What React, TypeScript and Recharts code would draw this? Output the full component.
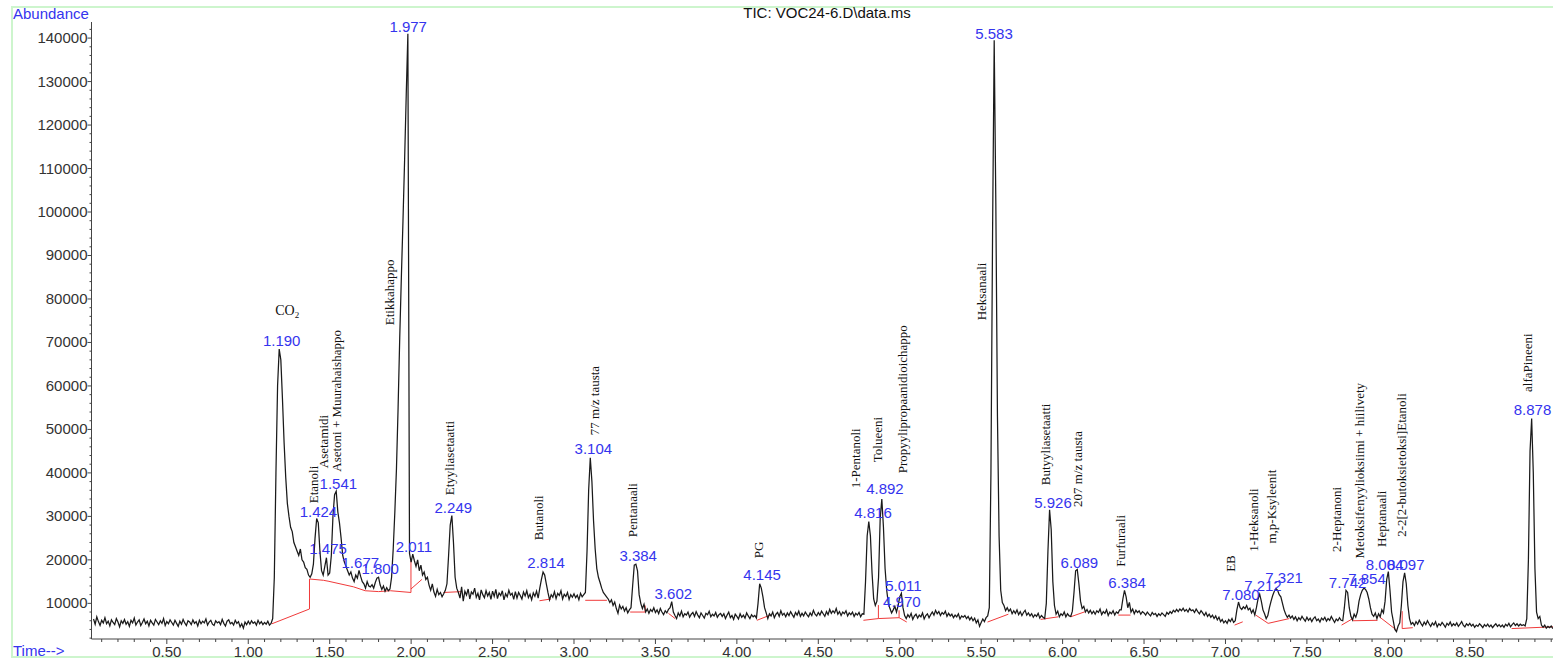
import React from "react";
import { LineChart, Line, XAxis, YAxis, ReferenceLine, ReferenceDot } from "recharts";

// TIC trace, one scan value every 0.01 min
const scanStep = 0.01;

const tic0 = [
  6400, 5200, 6900, 5800, 4900, 6100, 5500, 6700, 5300, 5900,
  4800, 6200, 5600, 5100, 6500, 5700, 4600, 6000, 5400, 6300,
  5200, 5800, 4700, 6100, 5500, 6600, 5000, 5700, 6200, 4900,
  5600, 6400, 5300, 5900, 4800, 6100, 5500, 5000, 6300, 5700,
  5100, 6000, 5400, 6500, 4900, 5800, 5300, 6200, 5600, 5000,
  6100, 5400, 4700, 5900, 5200, 6300, 5500, 4900, 6000, 5700,
  5100, 6200, 5400, 5800, 4800, 6100, 5300, 5900, 5500, 6400,
  5000, 5700, 6100, 5200, 4900, 6000, 5500, 5800, 5100, 6300,
  5400, 4800, 5900, 6200, 5300, 5600, 5000, 6100, 5400, 5800,
  4600, 5300, 4300, 5700, 5100,
];

const tic1 = [
  5900, 5200, 6000, 5400, 5700, 5000, 6100, 5300, 5800, 5100,
  5600, 5200, 5900, 5000, 5400, 6500, 16000, 40000, 60000, 68500,
  66000, 57000, 47000, 39000, 33000, 30000, 27500, 26500, 24000, 23000,
  22000, 21000, 22500, 20000, 19500, 18200, 17800, 16500, 16000, 16800,
  19000, 25000, 29500, 28500, 22000, 17500, 16500, 18500, 20500, 16500,
  17000, 21000, 30000, 35000, 35800, 31000, 28500, 25000, 21000, 19500,
  18500, 17500, 16500, 17200, 15800, 15000, 16500, 15800, 17600, 16200,
  15000, 14500, 13500, 15000, 14000, 13800, 14300, 13500, 14800, 15800,
  16000, 14200, 13200, 14000, 12800, 13600, 12900, 13300, 16000, 22500,
  31000, 41000, 55000, 71000, 85000, 98000, 112000, 127000, 141000, 21500,
];

const tic2 = [
  19500, 21300, 19800, 18500, 20000, 17500, 18800, 16500, 17200, 15500,
  16000, 14200, 13000, 14500, 12600, 11600, 13200, 12000, 12500, 11500,
  12200, 13000, 14500, 21000, 28000, 30200, 24000, 16000, 13500, 12500,
  11200, 13800, 10500, 12800, 11900, 13300, 11000, 12600, 12100, 13500,
  11400, 12300, 10800, 13100, 12000, 11300, 12900, 11700, 12500, 10900,
  12800, 11600, 13200, 11100, 12400, 11800, 12900, 10800, 12200, 11500,
  13000, 11900, 12300, 10900, 12700, 11200, 12500, 11800, 11000, 12600,
  11700, 12900, 11300, 12100, 10800, 12400, 11600, 12800, 11200, 13500,
  15500, 17200, 16500, 14500, 12500, 10800, 12000, 11400, 12700, 11100,
  12300, 11800, 12900, 11000, 12100, 11600, 12500, 10900, 12000, 11400,
];

const tic3 = [
  12200, 11300, 11900, 10800, 12300, 11500, 12000, 12500, 22000, 36000,
  43500, 38000, 29000, 22500, 18000, 16000, 14800, 13500, 12500, 12000,
  11500, 11000, 10200, 10800, 9500, 10300, 8800, 7700, 9600, 8700,
  9300, 8200, 9000, 7800, 8500, 9000, 14000, 18800, 19000, 17500,
  12000, 10000, 8800, 9800, 8000, 8700, 7700, 8600, 8100, 9000,
  7900, 8500, 7600, 8800, 8000, 7400, 8300, 7800, 8600, 9000,
  10400, 8000, 7200, 6500, 7800, 7100, 8200, 6900, 7600, 7300,
  8000, 6800, 7500, 7900, 7000, 8100, 7300, 6700, 7800, 7200,
  6600, 7700, 7400, 8200, 6900, 7500, 7100, 7900, 6800, 7400,
  7700, 7000, 7600, 6500, 7300, 8000, 6700, 7200, 6300, 7500,
];

const tic4 = [
  7000, 6400, 7600, 6800, 7300, 6600, 7800, 7100, 6500, 7400,
  6900, 7200, 6600, 10000, 14500, 13500, 11500, 9000, 7800, 6500,
  7600, 7100, 8000, 6700, 7500, 7900, 7000, 8300, 7300, 7700,
  6900, 7800, 7200, 8100, 7400, 6800, 7900, 7300, 8200, 7000,
  7700, 7100, 8000, 7400, 6900, 7800, 7200, 8400, 7500, 7100,
  7900, 7300, 8200, 7600, 7000, 8100, 7400, 8600, 7700, 8300,
  7800, 8800, 7500, 8100, 7200, 8000, 7600, 8300, 7100, 7800,
  7400, 8000, 7000, 7700, 7300, 7900, 6900, 7600, 7500, 15000,
  25500, 28800, 25500, 17000, 11000, 9500, 10500, 16000, 29500, 34000,
  27500, 18000, 13000, 10000, 8800, 7800, 8500, 9300, 8000, 9500,
];

const tic5 = [
  11500, 12300, 9000, 7200, 6500, 7400, 6800, 7700, 6300, 7100,
  7500, 6600, 7300, 6900, 7800, 6400, 7200, 7600, 6700, 7400,
  8000, 7300, 8400, 7600, 8100, 7200, 7900, 7500, 8200, 7000,
  7700, 7100, 7500, 6700, 7300, 6900, 7600, 6400, 7100, 6800,
  7200, 6500, 7000, 6200, 6800, 6000, 6600, 5500, 6200, 4700,
  5600, 6400, 5800, 6700, 7100, 9000, 40000, 95000, 139500, 102000,
  53000, 25500, 13000, 10200, 9500, 8300, 9000, 8200, 8700, 7600,
  8300, 7700, 8500, 7400, 8100, 7200, 7900, 8400, 7300, 7800,
  7100, 7600, 6800, 7400, 7000, 7700, 6600, 7200, 6800, 6500,
  10000, 22000, 31500, 27000, 15000, 9500, 7500, 8200, 6900, 7600,
];

const tic6 = [
  7200, 8000, 6900, 7600, 7100, 7000, 8200, 12500, 17500, 17800,
  14500, 10500, 8800, 9300, 8000, 8600, 7800, 8400, 7600, 8200,
  7500, 8300, 7900, 8700, 7400, 8100, 7700, 8500, 7200, 8000,
  7600, 8300, 7300, 8000, 7700, 8500, 8500, 11000, 13000, 11500,
  9000, 10200, 8000, 8700, 7600, 8400, 7900, 8300, 7500, 8100,
  7800, 7300, 8000, 7500, 7100, 7900, 7400, 7700, 7000, 7600,
  7200, 7800, 7400, 7000, 7900, 7500, 8100, 7700, 8400, 8000,
  8600, 8100, 8700, 8300, 8900, 8200, 8600, 8000, 8800, 8300,
  8500, 7900, 8700, 8100, 7600, 8300, 7800, 7200, 7900, 7000,
  7500, 6800, 7300, 6500, 7100, 6200, 6800, 5800, 6300, 5500,
];

const tic7 = [
  6000, 5400, 6300, 5800, 6500, 5600, 6000, 8500, 10300, 9000,
  8600, 9200, 8800, 9500, 8500, 8900, 7800, 8500, 7300, 9000,
  11000, 12100, 10500, 8500, 7600, 6500, 7200, 9000, 10500, 11800,
  12800, 13400, 13000, 12000, 11500, 10000, 8500, 7500, 6800, 7300,
  6600, 7100, 6300, 6900, 6000, 6700, 6200, 7000, 6400, 5900,
  6800, 6100, 6600, 5800, 6500, 6900, 6000, 6400, 5700, 6600,
  6200, 6800, 5900, 6500, 6100, 7000, 6300, 5600, 6400, 6000,
  6700, 6100, 6000, 9000, 13000, 12500, 9000, 7000, 6200, 7500,
  6800, 8000, 10500, 12000, 13000, 13500, 13200, 12500, 11000, 9000,
  7500, 7000, 7800, 6500, 7600, 6900, 8500, 7800, 10500, 15500,
];

const tic8 = [
  17300, 13000, 8000, 6000, 4000, 3500, 4800, 5500, 9500, 15000,
  17000, 14500, 9500, 6500, 5200, 5600, 4900, 5800, 5200, 6100,
  5400, 4800, 5700, 5100, 6000, 5300, 4700, 5500, 5000, 5800,
  4600, 5300, 4900, 5600, 5100, 4500, 5400, 5000, 5700, 4800,
  5300, 4900, 5500, 4700, 5200, 5800, 5000, 4600, 5300, 4900,
  5400, 4800, 5200, 4500, 5000, 4700, 5300, 4900, 4400, 5100,
  4700, 5200, 4600, 5000, 4400, 4900, 5300, 4700, 5100, 4600,
  5000, 4500, 5200, 4800, 5400, 4600, 5100, 5500, 4900, 5300,
  4800, 5200, 4900, 5100, 4800, 6500, 20000, 45000, 52500, 40000,
  18000, 8000, 6500, 7000, 5000, 4500, 5000, 4300, 4700, 4400,
  4800, 4200,
];

const ticSegments = [
  { start: 0.05, values: tic0 },
  { start: 1, values: tic1 },
  { start: 2, values: tic2 },
  { start: 3, values: tic3 },
  { start: 4, values: tic4 },
  { start: 5, values: tic5 },
  { start: 6, values: tic6 },
  { start: 7, values: tic7 },
  { start: 8, values: tic8 },
];

// integration baselines [t1, v1, t2, v2]
const baselineSegments = [
  [1.145, 5300, 1.376, 8700],
  [1.376, 8700, 1.376, 15600],
  [1.376, 15600, 1.462, 15300],
  [1.462, 15300, 1.49, 15100],
  [1.49, 15100, 1.646, 13800],
  [1.646, 13800, 1.718, 12900],
  [1.718, 12900, 1.8, 12700],
  [1.8, 12700, 1.873, 12900],
  [1.873, 12900, 1.999, 12500],
  [1.999, 12500, 1.999, 19900],
  [1.999, 13300, 2.066, 15500],
  [2.199, 12500, 2.312, 12700],
  [2.788, 10600, 2.858, 11000],
  [3.069, 10700, 3.202, 10700],
  [3.345, 8000, 3.437, 8000],
  [3.437, 8000, 3.437, 9500],
  [3.58, 7700, 3.621, 6500],
  [4.123, 6100, 4.205, 7300],
  [4.777, 6100, 4.869, 6500],
  [4.869, 6500, 4.869, 9600],
  [4.869, 6500, 4.996, 6700],
  [4.996, 6700, 4.996, 8400],
  [4.996, 6700, 5.043, 5700],
  [5.539, 5700, 5.667, 7500],
  [5.865, 6300, 5.973, 6900],
  [6.049, 6900, 6.136, 8050],
  [6.342, 7300, 6.417, 7300],
  [7.056, 5000, 7.106, 5750],
  [7.186, 7300, 7.262, 5400],
  [7.262, 5400, 7.392, 6500],
  [7.713, 5000, 7.782, 6500],
  [7.782, 6000, 7.934, 6100],
  [7.945, 6900, 8.052, 3800],
  [8.085, 4200, 8.085, 8200],
  [8.085, 4200, 8.15, 4400],
  [8.757, 4200, 9.011, 4600],
];

const rtLabels = [
  { text: "1.190", t: 1.205, v: 70300 },
  { text: "1.424", t: 1.431, v: 31100 },
  { text: "1.475", t: 1.49, v: 22450 },
  { text: "1.541", t: 1.553, v: 37350 },
  { text: "1.677", t: 1.688, v: 19200 },
  { text: "1.800", t: 1.81, v: 17800 },
  { text: "1.977", t: 1.982, v: 142460 },
  { text: "2.011", t: 2.017, v: 23050 },
  { text: "2.249", t: 2.259, v: 31950 },
  { text: "2.814", t: 2.829, v: 19240 },
  { text: "3.104", t: 3.119, v: 45400 },
  { text: "3.384", t: 3.394, v: 20850 },
  { text: "3.602", t: 3.61, v: 12100 },
  { text: "4.145", t: 4.155, v: 16490 },
  { text: "4.816", t: 4.836, v: 30730 },
  { text: "4.892", t: 4.909, v: 36240 },
  { text: "4.970", t: 5.013, v: 10300 },
  { text: "5.011", t: 5.023, v: 13940 },
  { text: "5.583", t: 5.579, v: 140850 },
  { text: "5.926", t: 5.941, v: 33180 },
  { text: "6.089", t: 6.103, v: 19390 },
  { text: "6.384", t: 6.396, v: 14790 },
  { text: "7.080", t: 7.095, v: 12030 },
  { text: "7.212", t: 7.23, v: 13950 },
  { text: "7.321", t: 7.36, v: 15860 },
  { text: "7.742", t: 7.75, v: 14790 },
  { text: "7.854", t: 7.869, v: 15710 },
  { text: "8.004", t: 7.977, v: 18770 },
  { text: "8.097", t: 8.107, v: 18770 },
  { text: "8.878", t: 8.885, v: 54410 },
];

// compound names, written bottom-up above the peaks
const compoundNames = [
  { name: "Etanoli", t: 1.401, v: 33030 },
  { name: "Asetamidi", t: 1.467, v: 41080 },
  { name: "Asetoni + Muurahaishappo", t: 1.546, v: 40270 },
  { name: "Etikkahappo", t: 1.872, v: 73950 },
  { name: "Etyyliasetaatti", t: 2.24, v: 34870 },
  { name: "Butanoli", t: 2.786, v: 24530 },
  { name: "77 m/z tausta", t: 3.13, v: 48680 },
  { name: "Pentanaali", t: 3.365, v: 25220 },
  { name: "PG", t: 4.133, v: 20400 },
  { name: "1-Pentanoli", t: 4.732, v: 36480 },
  { name: "Tolueeni", t: 4.869, v: 42460 },
  { name: "Propyylipropaanidioichappo", t: 5.023, v: 39930 },
  { name: "Heksanaali", t: 5.504, v: 75100 },
  { name: "Butyyliasetaatti", t: 5.898, v: 37170 },
  { name: "207 m/z tausta", t: 6.097, v: 32180 },
  { name: "Furfuraali", t: 6.359, v: 18390 },
  { name: "EB", t: 7.035, v: 17240 },
  { name: "1-Heksanoli", t: 7.176, v: 21840 },
  { name: "m,p-Ksyleenit", t: 7.288, v: 23750 },
  { name: "2-Heptanoni", t: 7.684, v: 21840 },
  { name: "Metoksifenyylioksiimi + hiilivety", t: 7.825, v: 20300 },
  { name: "Heptanaali", t: 7.96, v: 22990 },
  { name: "2-2[2-butoksietoksi]Etanoli", t: 8.085, v: 25290 },
  { name: "alfaPineeni", t: 8.86, v: 58620 },
];

const co2Label = { t: 1.239, v: 76230 };

const timeLabels = ["0.50", "1.00", "1.50", "2.00", "2.50", "3.00", "3.50", "4.00", "4.50", "5.00", "5.50", "6.00", "6.50", "7.00", "7.50", "8.00", "8.50"];
const abundanceLabels = [10000, 20000, 30000, 40000, 50000, 60000, 70000, 80000, 90000, 100000, 110000, 120000, 130000, 140000];

const ticData = ticSegments.flatMap(({ start, values }) =>
  values.map((v, i) => ({ t: Math.round((start + i * scanStep) * 100) / 100, v }))
);

const timeTicks: number[] = [];
for (let i = 1; i <= 90; i++) timeTicks.push(i / 10);
const abundanceTicks: number[] = [];
for (let i = 1; i <= 71; i++) abundanceTicks.push(i * 2000);

const sans = "'Liberation Sans', Arial, sans-serif";
const serif = "'Liberation Serif', 'Times New Roman', serif";
const blue = "#3434ee";
const axisColor = "#444";

const TimeTick = ({ x, y, payload }: any) => {
  const label = timeLabels.find((l) => Math.abs(parseFloat(l) - payload.value) < 1e-6);
  return (
    <g>
      <line x1={x} x2={x} y1={y} y2={y + (label ? 5 : 3)} stroke={axisColor} />
      {label && (
        <text x={x} y={y + 18} textAnchor="middle" fontFamily={sans} fontSize={15} fill="#333">
          {label}
        </text>
      )}
    </g>
  );
};

const AbundanceTick = ({ x, y, payload }: any) => {
  const major = abundanceLabels.includes(payload.value);
  return (
    <g>
      <line x1={x - (major ? 4 : 2)} x2={x} y1={y} y2={y} stroke={axisColor} />
      {major && (
        <text x={x - 4} y={y + 5} textAnchor="end" fontFamily={sans} fontSize={15} fill="#333">
          {payload.value}
        </text>
      )}
    </g>
  );
};

export default function App() {
  return (
    <div style={{ position: "fixed", left: 0, top: 0, width: 1553, height: 659, background: "#fff", overflow: "hidden" }}>
      <div
        style={{
          position: "absolute",
          left: 11,
          top: 6,
          width: 1600,
          height: 652,
          border: "2px solid #cdf5cd",
          boxSizing: "border-box",
        }}
      />
      <div style={{ position: "absolute", left: 13, top: 5, fontFamily: sans, fontSize: 15, color: blue }}>Abundance</div>
      <div style={{ position: "absolute", left: 13, top: 642, fontFamily: sans, fontSize: 15, color: blue }}>Time--&gt;</div>
      <div
        style={{ position: "absolute", left: 827, top: 4, transform: "translateX(-50%)", fontFamily: sans, fontSize: 15, color: "#111", whiteSpace: "nowrap" }}
      >
        TIC: VOC24-6.D\data.ms
      </div>
      <div style={{ position: "absolute", left: 0, top: 0 }}>
        <LineChart width={1553} height={659} data={ticData} margin={{ top: 22, right: 0, bottom: 0, left: 11.5 }}>
          <XAxis
            type="number"
            dataKey="t"
            domain={[0.0375, 9.011]}
            allowDataOverflow
            ticks={timeTicks}
            interval={0}
            tickSize={0}
            tickMargin={0}
            tickLine={false}
            tick={<TimeTick />}
            height={20}
            axisLine={{ stroke: axisColor }}
          />
          <YAxis
            type="number"
            domain={[1800, 143700]}
            allowDataOverflow
            ticks={abundanceTicks}
            interval={0}
            tickSize={0}
            tickMargin={0}
            tickLine={false}
            tick={<AbundanceTick />}
            width={80}
            axisLine={{ stroke: axisColor }}
          />
          {baselineSegments.map(([t1, v1, t2, v2], i) => (
            <ReferenceLine
              key={`b${i}`}
              segment={[
                { x: t1, y: v1 },
                { x: t2, y: v2 },
              ]}
              stroke="#f03a3a"
              strokeWidth={1}
              ifOverflow="extendDomain"
            />
          ))}
          <Line
            type="linear"
            dataKey="v"
            stroke="#1a1a1a"
            strokeWidth={1.25}
            dot={false}
            isAnimationActive={false}
          />
          {rtLabels.map((p) => (
            <ReferenceDot
              key={`rt${p.text}`}
              x={p.t}
              y={p.v}
              r={0}
              ifOverflow="visible"
              shape={(props: any) => (
                <text x={props.cx} y={props.cy + 5} textAnchor="middle" fontFamily={sans} fontSize={15} fill={blue}>
                  {p.text}
                </text>
              )}
            />
          ))}
          {compoundNames.map((c) => (
            <ReferenceDot
              key={`n${c.name}`}
              x={c.t}
              y={c.v}
              r={0}
              ifOverflow="visible"
              shape={(props: any) => (
                <text
                  x={props.cx + 4}
                  y={props.cy}
                  transform={`rotate(-90 ${props.cx + 4} ${props.cy})`}
                  textAnchor="start"
                  fontFamily={serif}
                  fontSize={13}
                  fill="#111"
                >
                  {c.name}
                </text>
              )}
            />
          ))}
          <ReferenceDot
            x={co2Label.t}
            y={co2Label.v}
            r={0}
            ifOverflow="visible"
            shape={(props: any) => (
              <text x={props.cx} y={props.cy} textAnchor="middle" fontFamily={serif} fontSize={14} fill="#111">
                CO<tspan fontSize={9} dy={3}>2</tspan>
              </text>
            )}
          />
        </LineChart>
      </div>
    </div>
  );
}
